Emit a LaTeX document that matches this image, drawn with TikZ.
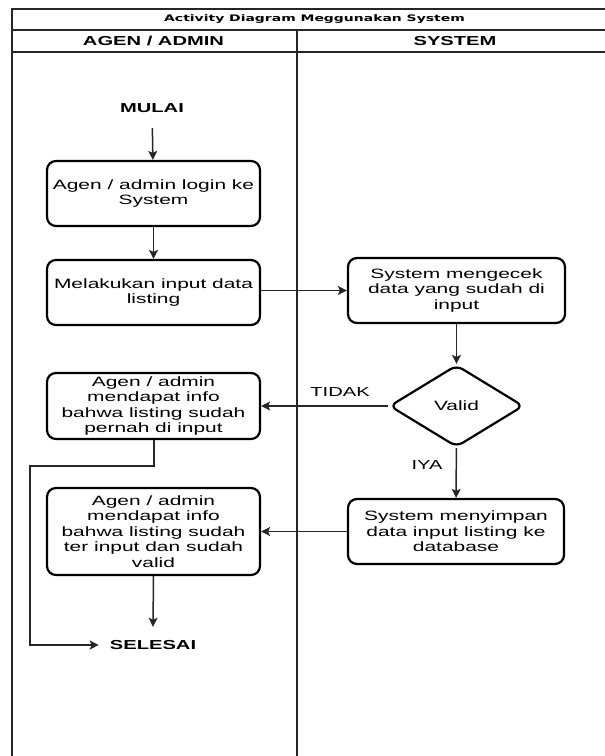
\documentclass[tikz,border=0pt]{standalone}
\usepackage{fontspec}
\setmainfont[FakeStretch=1.55]{Liberation Sans}
\newfontfamily\titlefont[FakeStretch=1.55]{DejaVu Sans}
\usetikzlibrary{arrows.meta,shapes.geometric}
\begin{document}
\begin{tikzpicture}[x=1pt,y=-1pt,
  frame/.style={line width=1.5pt, draw=black!85},
  box/.style={draw, line width=2.2pt, rounded corners=9pt, minimum width=213pt,
    minimum height=65pt, inner sep=0pt, align=center,
    font=\fontsize{13.5}{15.5}\selectfont},
  dia/.style={draw, diamond, line width=2.2pt, rounded corners=7pt, aspect=1.63,
    minimum width=134pt, minimum height=82pt, inner sep=0pt,
    font=\fontsize{13.5}{15.5}\selectfont},
  term/.style={font=\fontsize{13}{15.5}\selectfont\bfseries, inner sep=0pt},
  lbl/.style={font=\fontsize{13}{15.5}\selectfont, inner sep=0pt},
  head/.style={font=\fontsize{13}{15.5}\selectfont\bfseries, inner sep=0pt},
  conn/.style={line width=1.5pt, draw=black!85,
    -{Stealth[length=9pt,width=9pt,inset=2pt]}},
  plain/.style={line width=1.5pt, draw=black!85}]
\useasboundingbox (0,0) rectangle (605,756);
% frame
\draw[frame] (12,756) -- (12,9) -- (605,9);
\draw[frame] (12,30) -- (605,30);
\draw[frame] (12,52) -- (605,52);
\draw[frame] (297,30) -- (297,756);
\node[font=\titlefont\fontsize{9}{11}\selectfont\bfseries, inner sep=0pt] (title) at (314.5,19.5) {Activity Diagram Meggunakan System};
\node[head] (h1) at (153.5,41) {AGEN / ADMIN};
\node[head] (h2) at (455,41) {SYSTEM};
% nodes
\node[term, minimum height=40pt] (start) at (152,108) {MULAI};
\node[box] (b1) at (153.5,193.5) {Agen / admin login ke\\System};
\node[box] (b2) at (153.5,292.5) {Melakukan input data\\listing};
\node[box, minimum width=217pt] (s1) at (456.5,290.5) {System mengecek\\data yang sudah di\\input};
\node[dia] (valid) at (456.5,406) {Valid};
\node[box, minimum height=66pt] (b3) at (153.5,406) {Agen / admin\\mendapat info\\bahwa listing sudah\\pernah di input};
\node[box, minimum width=216pt] (s2) at (456,531.5) {System menyimpan\\data input listing ke\\database};
\node[box, minimum height=87pt] (b4) at (153.5,531.5) {Agen / admin\\mendapat info\\bahwa listing sudah\\ter input dan sudah\\valid};
\node[term, minimum height=36pt, inner xsep=11pt] (end) at (153,645) {SELESAI};
% connectors
\draw[conn] (start) -- (b1);
\draw[conn] (b1) -- (b2);
\draw[conn] (b2.east |- s1.west) -- (s1.west);
\draw[conn] (s1) -- (valid);
\draw[conn] (valid.west) -- node[lbl, above=9pt, pos=0.38] (tidak) {TIDAK} (b3.east);
\draw[conn] (valid) -- node[lbl, pos=0.35, left=13pt] (iya) {IYA} (s2);
\draw[conn] (s2.west) -- (b4.east);
\draw[conn] (b4.south) -- (end.north);
\coordinate (t1) at (154,466);
\coordinate (t2) at (30,466);
\draw[conn] (b3.south -| t1) -- (t1) -- (t2) -- (t2 |- end.west) -- (end.west);
\end{tikzpicture}
\end{document}
